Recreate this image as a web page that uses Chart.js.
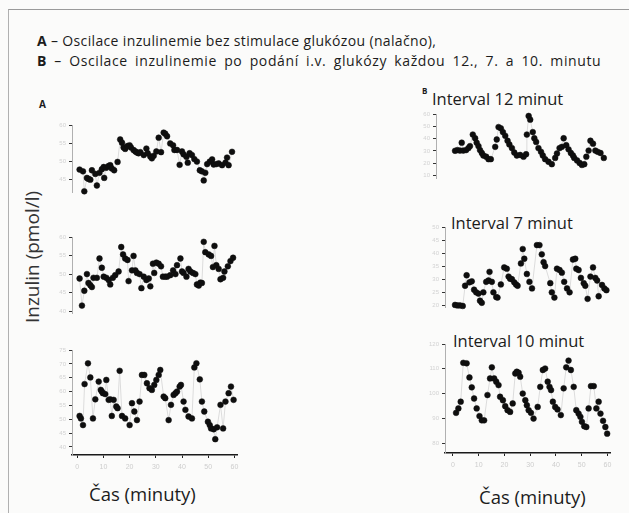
<!DOCTYPE html>
<html>
<head>
<meta charset="utf-8">
<script src="https://cdn.jsdelivr.net/npm/chart.js@4/dist/chart.umd.min.js"></script>
<style>
  html, body { margin: 0; padding: 0; background: #fbfbfa; }
  body { width: 629px; height: 513px; position: relative; overflow: hidden; font-family: "Open Sans", sans-serif; color: #1c1c1c; }
  .frame { position: absolute; left: 8px; top: 9px; width: 640px; height: 520px; border-top: 1px solid #9a9a9a; border-left: 1px solid #b0b0b0; }
  .t { position: absolute; white-space: nowrap; line-height: 1; }
  canvas { position: absolute; }
</style>
</head>
<body>
<div class="frame"></div>
<div class="t" style="left:37px; top:34px; font-size:14px; letter-spacing:0.35px;"><b>A</b> – Oscilace inzulinemie bez stimulace glukózou (nalačno),</div>
<div class="t" style="left:37px; top:54px; font-size:14px; letter-spacing:0.6px; word-spacing:3.1px;"><b>B</b> – Oscilace inzulinemie po podání i.v. glukózy každou 12., 7. a 10. minutu</div>
<div class="t" style="left:39px; top:99px; font-size:10px; font-weight:bold;">A</div>
<div class="t" style="left:422px; top:87px; font-size:8px; font-weight:bold;">B</div>
<div class="t" style="left:32px; top:257px; font-size:19px; color:#333; transform: translate(-50%,-50%) rotate(-90deg); transform-origin: 50% 50%;">Inzulin (pmol/l)</div>
<div class="t" style="left:432px; top:91px; font-size:16.5px;">Interval 12 minut</div>
<div class="t" style="left:451px; top:215px; font-size:16.5px;">Interval 7 minut</div>
<div class="t" style="left:453px; top:333px; font-size:16.5px;">Interval 10 minut</div>
<div class="t" style="left:89px; top:485px; font-size:18.5px;">Čas (minuty)</div>
<div class="t" style="left:479px; top:488px; font-size:18.5px;">Čas (minuty)</div>

<canvas id="a1"></canvas>
<canvas id="a2"></canvas>
<canvas id="a3"></canvas>
<canvas id="b1"></canvas>
<canvas id="b2"></canvas>
<canvas id="b3"></canvas>

<script>
// ---- data (čas v minutách, inzulin) ----
const xTicks = [0, 10, 20, 30, 40, 50, 60];

const a1Time = [0.9,2.2,2.7,3.7,4.3,5.0,5.6,6.9,7.5,8.5,9.4,10.1,10.3,11.1,12.0,12.6,13.2,14.1,15.4,16.4,17.1,17.7,18.3,19.2,20.0,20.5,21.5,22.2,22.8,23.4,24.1,25.4,26.4,26.9,27.9,28.5,29.2,30.2,31.1,32.0,33.0,33.6,34.3,35.5,36.6,37.1,38.1,39.1,40.0,40.6,41.7,42.2,42.9,43.8,44.7,45.7,46.8,47.6,48.3,48.9,49.6,50.6,51.5,52.1,53.1,54.0,55.3,56.6,57.2,57.8,59.1];
const a1Val  = [47.7,47.2,41.7,45.4,45.1,44.9,47.5,46.5,43.3,46.8,47.8,48.4,45.4,48.2,48.7,48.9,48.0,47.5,49.8,56.0,55.1,53.8,53.4,54.2,54.4,53.8,53.1,52.7,52.4,52.2,52.5,51.7,53.5,52.2,51.3,50.8,51.5,52.7,56.5,52.5,57.9,57.6,56.9,54.9,54.4,53.1,53.1,49.0,52.7,51.9,51.2,49.6,52.2,51.7,50.6,49.9,47.5,47.2,44.7,46.8,49.2,49.9,50.5,49.1,49.2,49.4,48.9,49.6,51.0,48.9,52.6];
const a1Ticks = [45, 50, 55, 60];

const a2Time = [0.9,1.8,2.7,3.7,4.3,5.0,5.6,6.2,7.5,8.5,9.4,10.1,11.1,12.0,12.6,13.6,14.5,15.8,16.8,17.5,18.3,19.2,19.6,20.9,21.5,22.2,22.8,23.8,24.5,25.4,26.4,27.3,27.9,28.9,29.4,30.2,31.1,32.0,32.7,33.6,34.3,35.5,36.6,37.5,38.1,39.4,40.0,40.6,41.7,42.5,43.2,44.2,45.1,45.7,46.4,47.0,47.6,48.3,48.9,50.2,51.1,51.8,52.4,53.1,54.0,54.7,55.7,56.2,57.5,58.5,59.5];
const a2Val  = [48.8,41.5,45.5,50.0,47.6,47.0,46.5,49.0,49.0,54.2,51.7,49.3,49.0,48.4,47.2,49.0,49.7,50.7,57.3,55.3,54.2,53.8,48.1,51.0,54.9,51.0,50.3,50.0,46.2,49.3,48.4,48.8,46.7,52.8,50.3,53.1,52.8,52.1,49.3,49.3,49.3,49.7,51.0,50.0,52.4,54.2,50.7,50.3,49.3,51.4,50.7,50.3,50.0,47.2,46.9,47.7,47.6,58.7,55.9,55.3,54.9,51.9,57.6,52.4,51.4,48.6,49.0,50.7,52.1,53.5,54.4];
const a2Ticks = [40, 45, 50, 55, 60];

const a3Time = [0.9,1.4,2.2,2.8,4.1,5.0,6.0,6.9,8.2,9.0,9.4,9.8,10.7,11.1,12.0,12.6,13.2,13.9,14.9,15.4,16.2,17.1,18.3,20.0,20.9,21.8,22.8,23.8,24.7,25.6,26.6,27.6,28.5,29.4,30.2,31.1,31.7,33.0,33.6,34.9,35.8,36.8,37.5,38.1,39.1,39.6,40.6,41.3,42.5,43.8,44.7,45.5,46.8,47.6,48.5,49.9,50.6,51.1,52.1,52.7,53.4,54.7,55.7,56.6,57.8,58.7,59.7];
const a3Val  = [51.2,50.3,47.9,62.7,70.2,65.1,50.3,57.2,63.6,60.6,60.0,59.4,59.1,64.2,57.0,57.2,51.2,57.0,54.6,54.0,67.5,51.2,50.3,47.9,55.8,52.8,49.7,56.4,66.0,66.0,63.0,61.2,60.6,62.4,64.2,66.0,67.8,58.2,57.6,49.7,55.2,58.8,59.4,60.0,61.8,62.4,56.4,53.4,51.0,50.3,68.7,70.2,64.4,56.4,52.8,49.1,47.9,46.7,46.4,42.8,47.1,55.2,46.7,56.4,59.4,61.8,57.0];
const a3Ticks = [40, 45, 50, 55, 60, 65, 70, 75];

const b1Time = [0.8,1.7,2.7,3.4,4.0,5.1,6.0,6.6,7.7,8.6,9.2,9.9,10.5,11.2,11.8,12.9,13.8,14.7,16.4,17.0,17.7,18.6,19.4,20.3,21.2,21.9,22.9,23.8,24.8,26.1,27.4,28.4,28.7,29.4,30.0,31.0,31.6,32.3,33.2,34.2,34.9,35.8,37.1,38.4,39.7,40.4,41.4,42.3,43.0,44.0,44.9,45.8,46.6,47.1,48.2,49.2,50.1,51.0,51.8,52.7,53.4,54.4,55.3,56.2,57.3,58.6];
const b1Val  = [30.1,30.7,30.3,36.7,30.3,30.7,32.3,33.9,43.3,40.3,36.7,33.9,30.7,28.3,26.3,25.3,23.3,23.3,33.3,39.3,49.4,48.4,45.3,42.3,38.3,35.3,32.3,28.7,26.3,26.7,25.3,27.3,43.3,58.4,55.4,45.3,40.3,37.3,32.3,29.3,26.3,23.3,21.2,19.2,24.3,27.9,32.3,33.3,40.3,34.7,31.3,28.3,26.3,24.3,22.3,20.2,18.6,19.2,25.3,30.3,38.3,35.9,30.3,29.3,28.3,24.3];
const b1Ticks = [10, 20, 30, 40, 50, 60];

const b2Time = [0.8,1.7,2.7,3.8,4.7,5.3,6.4,7.3,8.2,9.0,9.9,10.5,11.2,11.8,12.9,13.8,14.2,15.1,15.7,16.8,17.3,18.6,19.9,20.9,21.6,22.2,22.9,23.8,24.5,25.1,26.4,27.1,27.7,28.7,29.7,30.7,32.6,33.6,34.5,35.2,35.8,37.8,38.4,39.4,40.4,41.4,42.3,43.2,44.3,45.3,46.6,47.5,47.9,48.8,49.7,50.8,51.4,52.3,53.4,54.4,55.3,56.0,56.6,57.9,58.8,59.6];
const b2Val  = [20.3,20.1,20.1,19.9,27.6,31.6,28.9,29.3,26.1,25.1,24.6,21.9,21.1,25.1,29.1,29.6,32.9,29.1,25.1,23.3,23.1,28.1,34.6,34.1,31.1,30.3,30.1,28.9,28.1,27.6,36.1,41.6,37.9,32.1,29.1,26.6,43.1,43.1,39.6,36.6,35.1,28.6,25.1,23.1,34.1,33.6,32.6,29.1,26.6,25.1,37.6,37.9,34.1,33.6,30.6,28.6,27.6,22.6,31.1,34.6,30.6,29.6,23.6,27.9,26.6,25.9];
const b2Ticks = [20, 25, 30, 35, 40, 45, 50];

const b3Time = [1.2,2.1,3.0,4.0,5.3,6.4,7.3,8.2,9.2,10.3,11.2,12.1,13.4,14.4,15.1,16.0,16.8,17.7,18.3,19.4,20.3,21.2,22.2,23.2,24.2,24.8,25.5,26.1,27.1,28.1,28.7,29.4,30.3,31.3,32.9,33.9,34.9,35.8,36.8,37.5,38.1,38.8,39.7,40.6,41.9,43.0,44.0,44.9,45.8,46.9,47.9,48.8,49.5,50.1,51.0,51.8,52.7,53.6,54.7,55.7,56.6,57.3,58.3,59.2,59.9];
const b3Val  = [92.2,94.0,96.7,112.4,112.2,106.5,102.5,98.0,94.0,90.9,89.2,89.2,99.4,106.1,110.6,106.1,104.8,103.4,98.7,97.3,94.9,93.3,92.6,96.0,108.1,108.8,108.4,106.8,100.0,97.3,95.3,93.3,92.2,89.9,94.6,102.7,109.5,110.1,104.8,102.7,101.4,96.7,94.6,93.6,91.3,102.1,110.6,113.3,109.5,102.7,93.3,91.9,90.6,88.6,86.8,86.5,94.0,103.0,103.0,94.0,96.7,91.9,89.0,86.5,83.8];
const b3Ticks = [80, 90, 100, 110, 120];

// ---- panels ----
const YW = 30, PT = 8, PR = 8, XH = 22, PB = 6;

function panel(id, area, xMin, xMax, yMin, yMax, yTicks, showX, times, vals) {
  const c = document.getElementById(id);
  const w = (area.right - area.left) + YW + PR;
  const h = (area.bottom - area.top) + PT + (showX ? XH : PB);
  c.width = Math.round(w); c.height = Math.round(h);
  c.style.left = (area.left - YW) + "px";
  c.style.top = (area.top - PT) + "px";
  new Chart(c, {
    type: "scatter",
    data: {
      datasets: [{
        data: times.map((t, i) => ({ x: t, y: vals[i] })),
        showLine: true,
        borderColor: "#dcdcdc",
        borderWidth: 1,
        pointRadius: 2.9,
        pointBackgroundColor: "#0e0e0e",
        pointBorderColor: "#0e0e0e",
        pointBorderWidth: 0.5,
        clip: false,
      }],
    },
    options: {
      responsive: false,
      animation: false,
      events: [],
      layout: { padding: { top: PT, right: PR, bottom: showX ? 0 : PB, left: 0 } },
      plugins: { legend: { display: false }, tooltip: { enabled: false } },
      scales: {
        x: {
          type: "linear", min: xMin, max: xMax, display: showX,
          afterBuildTicks: s => { s.ticks = xTicks.map(v => ({ value: v })); },
          afterFit: s => { s.height = XH; },
          border: { color: "#1a1a1a", width: 1.6 },
          grid: { drawOnChartArea: false, color: "#222", tickLength: 3 },
          ticks: { color: "#cdcdcd", font: { size: 7 }, padding: 5 },
        },
        y: {
          type: "linear", min: yMin, max: yMax,
          afterBuildTicks: s => { s.ticks = yTicks.map(v => ({ value: v })); },
          afterFit: s => { s.width = YW; },
          border: { color: "#b0b0b0", width: 1 },
          grid: { drawOnChartArea: false, color: "#333", tickLength: 3 },
          ticks: { color: "#d2d2d2", font: { size: 6 }, padding: 3 },
        },
      },
    },
  });
}

// levý sloupec: 0 min -> 77 px, 2.617 px/min
const lx = t => 77 + t * 2.617;
// pravý sloupec: 0 min -> 453 px, 2.567 px/min
const rx = t => 453 + t * 2.567;

panel("a1", { left: lx(-2), right: lx(61), top: 125, bottom: 213.8 }, -2, 61, 41.5, 60, a1Ticks, false, a1Time, a1Val);
panel("a2", { left: lx(-2), right: lx(61), top: 237, bottom: 335.4 }, -2, 61, 39.5, 60, a2Ticks, false, a2Time, a2Val);
panel("a3", { left: lx(-2), right: lx(61), top: 350, bottom: 455 }, -2, 61, 37.1, 75, a3Ticks, true, a3Time, a3Val);

panel("b1", { left: rx(-6.6), right: rx(61), top: 114, bottom: 200.3 }, -6.6, 61, 8, 60, b1Ticks, false, b1Time, b1Val);
panel("b2", { left: rx(-3.1), right: rx(61), top: 227, bottom: 328.7 }, -3.1, 61, 19.5, 50, b2Ticks, false, b2Time, b2Val);
panel("b3", { left: rx(-3.1), right: rx(61), top: 344, bottom: 452.7 }, -3.1, 61, 76, 120, b3Ticks, true, b3Time, b3Val);
</script>
</body>
</html>
